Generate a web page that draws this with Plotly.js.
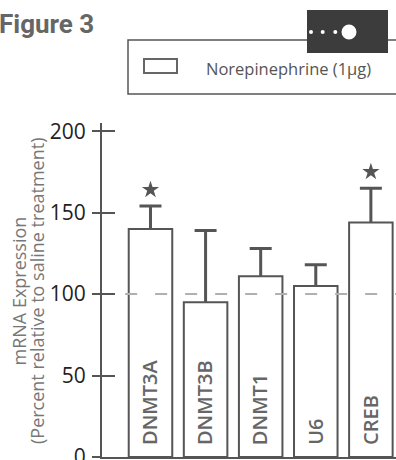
<!DOCTYPE html>
<html>
<head>
<meta charset="utf-8">
<script src="https://cdn.plot.ly/plotly-3.0.1.min.js"></script>
<style>html,body{margin:0;padding:0;background:#fff;}#chart{width:396px;height:460px;}</style>
</head>
<body>
<div id="chart"></div>
<script>
// ---- data ----
const genes = ["DNMT3A", "DNMT3B", "DNMT1", "U6", "CREB"];
const expression = [140, 95, 111, 105, 144];
const sem = [14, 44, 17, 13, 21];
const significant = [true, false, false, false, true];
const yTicks = [0, 50, 100, 150, 200];
const baselineValue = 100;
const seriesName = "Norepinephrine (1µg)";
const yTitleLines = ["mRNA Expression", "(Percent relative to saline treatment)"];
const figureLabel = "Figure 3";

// ---- layout geometry ----
const W = 396, H = 460;
const ML = 102, MR = 0, MT = 123, MB = 3;
const PW = W - ML - MR, PH = H - MT - MB;
const px = v => (v - ML) / PW;          // pixel x -> paper
const py = v => (H - MB - v) / PH;      // pixel y -> paper
const xRange = [-0.88, 4.456];
const yRange = [0, 205];
const dark = "#555555";

// star positions: above error bar tops
const starY = expression.map((v, i) => significant[i] ? v + sem[i] + 10 : null);

const traces = [
  { // error bars (drawn under the white bars)
    type: "scatter", mode: "markers", x: genes, y: expression,
    xaxis: "x", yaxis: "y",
    marker: { opacity: 0, size: 1 },
    error_y: { type: "data", array: sem, symmetric: true, color: dark, thickness: 3, width: 11 },
    hoverinfo: "skip", showlegend: false
  },
  {
    type: "bar", x: genes, y: expression, name: seriesName,
    xaxis: "x2", yaxis: "y2", width: 0.79,
    marker: { color: "#ffffff", line: { color: dark, width: 2 } },
    showlegend: false
  },
  {
    type: "scatter", mode: "markers", x: genes, y: starY,
    xaxis: "x2", yaxis: "y2",
    marker: { symbol: "star", size: 13, color: dark },
    showlegend: false, hoverinfo: "skip"
  }
];

const annotations = genes.map(g => ({
  x: g, y: 0, xref: "x", yref: "y", text: g, showarrow: false,
  textangle: -90, xanchor: "center", yanchor: "bottom", yshift: 10, xshift: -1,
  font: { family: "Open Sans", size: 20, color: "#666666", weight: 600 }
}));
const titleX = [18.5, 37];
yTitleLines.forEach((t, i) => annotations.push({
  x: px(titleX[i]), y: py(291), xref: "paper", yref: "paper",
  text: t, showarrow: false, textangle: -90,
  xanchor: "center", yanchor: "middle",
  font: { family: "Open Sans", size: 18, color: "#777777" }
}));
annotations.push({
  x: px(204), y: py(68), xref: "paper", yref: "paper", text: seriesName,
  showarrow: false, xanchor: "left", yanchor: "middle",
  font: { family: "Open Sans", size: 16.5, color: "#555555" }
});
annotations.push({
  x: px(96), y: py(24), xref: "paper", yref: "paper", text: figureLabel,
  showarrow: false, xanchor: "right", yanchor: "middle",
  font: { family: "Roboto", size: 26, color: "#666666", weight: 700 }
});

const shapes = [
  { type: "line", xref: "x", yref: "y", x0: -0.46, x1: xRange[1] + 0.5, y0: baselineValue, y1: baselineValue,
    line: { color: "#b0b0b0", width: 2, dash: "12px,18px" }, layer: "above" },
  // legend box
  { type: "rect", xref: "paper", yref: "paper", x0: px(128), x1: px(420), y0: py(94), y1: py(40),
    line: { color: "#555555", width: 1.5 }, fillcolor: "rgba(0,0,0,0)" },
  { type: "rect", xref: "paper", yref: "paper", x0: px(144), x1: px(177), y0: py(73), y1: py(59),
    line: { color: "#666666", width: 2 }, fillcolor: "#ffffff" },
  // dark badge
  { type: "rect", xref: "paper", yref: "paper", x0: px(307), x1: px(388), y0: py(53), y1: py(10),
    line: { width: 0 }, fillcolor: "#3c3c3c" }
];
[[311, 2], [322.7, 2], [335.3, 2], [349, 7.5]].forEach(([cx, r]) => {
  shapes.push({ type: "circle", xref: "paper", yref: "paper",
    x0: px(cx - r), x1: px(cx + r), y0: py(32 + r), y1: py(32 - r),
    line: { width: 0 }, fillcolor: "#ffffff" });
});

const layout = {
  width: W, height: H,
  margin: { l: ML, r: MR, t: MT, b: MB, pad: 0 },
  paper_bgcolor: "#ffffff", plot_bgcolor: "rgba(0,0,0,0)",
  showlegend: false,
  font: { family: "Open Sans" },
  xaxis: { range: xRange, type: "category", showline: true, linecolor: dark, linewidth: 2,
    ticks: "", showticklabels: false, showgrid: false, zeroline: false, fixedrange: true },
  yaxis: { range: yRange, tickvals: yTicks, ticks: "outside", ticklen: 8, tickwidth: 2, tickcolor: dark,
    showline: true, linecolor: dark, linewidth: 2, showgrid: false, zeroline: false,
    ticklabeloverflow: "allow",
    tickfont: { family: "Open Sans", size: 21, color: "#222222" }, ticklabelstandoff: 2 },
  xaxis2: { range: xRange, type: "category", overlaying: "x", visible: false },
  yaxis2: { range: yRange, tickvals: yTicks, overlaying: "y", ticks: "inside", ticklen: 13, tickwidth: 2,
    tickcolor: dark, showline: false, showticklabels: false, showgrid: false, zeroline: false },
  annotations: annotations,
  shapes: shapes
};

Plotly.newPlot("chart", traces, layout, { staticPlot: true, displayModeBar: false });
</script>
</body>
</html>
